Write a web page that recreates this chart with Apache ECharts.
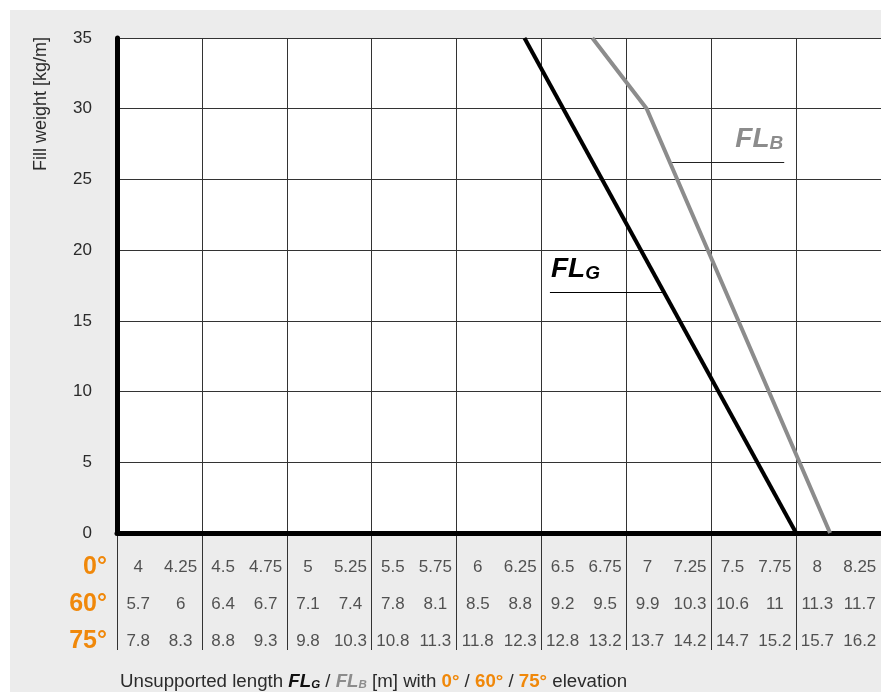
<!DOCTYPE html>
<html>
<head>
<meta charset="utf-8">
<script src="https://cdn.jsdelivr.net/npm/echarts@6/dist/echarts.min.js"></script>
<style>
  html, body { margin: 0; padding: 0; background: #fff; }
  #chart { width: 881px; height: 692px; }
</style>
</head>
<body>
<div id="chart"></div>
<script>
// Unsupported length columns (0° row is the reference scale of the x axis)
const lengths0 = ['4','4.25','4.5','4.75','5','5.25','5.5','5.75','6','6.25','6.5','6.75','7','7.25','7.5','7.75','8','8.25'];
const lengths60 = ['5.7','6','6.4','6.7','7.1','7.4','7.8','8.1','8.5','8.8','9.2','9.5','9.9','10.3','10.6','11','11.3','11.7'];
const lengths75 = ['7.8','8.3','8.8','9.3','9.8','10.3','10.8','11.3','11.8','12.3','12.8','13.2','13.7','14.2','14.7','15.2','15.7','16.2'];
const elevations = ['0°', '60°', '75°'];

// Fill weight [kg/m] vs unsupported length at 0° [m]
const flG = [[6.4, 35], [8.0, 0]];
const flB = [[6.8, 35], [7.12, 30], [8.2, 0]];

// Leader lines for the curve names (length, weight)
const flGLeader = [[6.55, 17], [7.22, 17]];
const flBLeader = [[7.27, 26.2], [7.93, 26.2]];

const FONT = "'Liberation Sans', Arial, Helvetica, sans-serif";
const ORANGE = '#f0880a';
const TEXT = '#2b2b2b';
const GRID_LINE = '#333333';
const PLOT_LEFT = 117;
const PLOT_WIDTH = 767;

const tableRows = [lengths0, lengths60, lengths75];
const tableData = [];
tableRows.forEach((row, r) => {
  row.forEach((txt, c) => tableData.push([c, r, txt]));
});

const chart = echarts.init(document.getElementById('chart'), null, { renderer: 'canvas' });

const sub = (size, color, lh) => ({
  fontSize: size, color: color, fontWeight: 'bold', fontStyle: 'italic',
  fontFamily: FONT, lineHeight: lh, verticalAlign: 'bottom'
});

chart.setOption({
  animation: false,
  backgroundColor: '#ffffff',
  textStyle: { fontFamily: FONT },
  graphic: [
    {
      type: 'rect', z: -100, silent: true,
      shape: { x: 10, y: 10, width: 871, height: 682 },
      style: { fill: '#ececec' }
    },
    {
      type: 'text', x: 41, y: 104, rotation: Math.PI / 2,
      style: {
        text: 'Fill weight [kg/m]', align: 'center', verticalAlign: 'middle',
        font: "18px 'Liberation Sans', Arial, sans-serif", fill: TEXT
      }
    }
  ],
  title: {
    left: 120, top: 671, padding: 0,
    text: '{n|Unsupported length }{k|FL}{ks|G}{n| / }{g|FL}{gs|B}{n| [m] with }{o|0°}{n| / }{o|60°}{n| / }{o|75°}{n| elevation}',
    textStyle: {
      fontWeight: 'normal',
      rich: {
        n: { fontSize: 18.7, color: TEXT, fontWeight: 'normal', fontFamily: FONT, lineHeight: 20, verticalAlign: 'bottom' },
        k: sub(18.7, '#111', 20),
        ks: sub(11.5, '#111', 8),
        g: sub(18.7, '#8c8c8c', 20),
        gs: sub(11.5, '#8c8c8c', 8),
        o: { fontSize: 18.7, color: ORANGE, fontWeight: 'bold', fontFamily: FONT, lineHeight: 20, verticalAlign: 'bottom' }
      }
    }
  },
  grid: [
    // main chart
    { left: PLOT_LEFT, top: 38, width: PLOT_WIDTH, height: 495, show: true, backgroundColor: '#ffffff', borderWidth: 0, containLabel: false },
    // table column separators
    { left: PLOT_LEFT, top: 534, width: PLOT_WIDTH, height: 116, show: false },
    // table values
    { left: PLOT_LEFT, top: 549, width: PLOT_WIDTH, height: 111, show: false }
  ],
  xAxis: [
    {
      gridIndex: 0, type: 'value', min: 4, max: 8.5, interval: 0.5,
      axisLine: { show: true, onZero: true, lineStyle: { color: '#000', width: 5 } },
      axisTick: { show: false },
      axisLabel: { show: false },
      splitLine: { show: true, lineStyle: { color: GRID_LINE, width: 1 } }
    },
    {
      gridIndex: 1, type: 'value', min: 4, max: 8.5, interval: 0.5,
      axisLine: { show: false }, axisTick: { show: false }, axisLabel: { show: false },
      splitLine: { show: true, lineStyle: { color: GRID_LINE, width: 1 } }
    },
    {
      gridIndex: 2, type: 'category', data: lengths0.map((_, i) => i), boundaryGap: true,
      axisLine: { show: false }, axisTick: { show: false }, axisLabel: { show: false },
      splitLine: { show: false }
    }
  ],
  yAxis: [
    {
      gridIndex: 0, type: 'value', min: 0, max: 35, interval: 5,
      axisLine: { show: true, lineStyle: { color: '#000', width: 5 } },
      axisTick: { show: false },
      axisLabel: { color: TEXT, fontSize: 17, margin: 25, fontFamily: FONT },
      splitLine: { show: true, lineStyle: { color: GRID_LINE, width: 1 } }
    },
    {
      gridIndex: 1, type: 'value', min: 0, max: 1,
      axisLine: { show: false }, axisTick: { show: false }, axisLabel: { show: false },
      splitLine: { show: false }
    },
    {
      gridIndex: 2, type: 'category', data: elevations, inverse: true,
      axisLine: { show: false }, axisTick: { show: false },
      axisLabel: { color: ORANGE, fontSize: 25, fontWeight: 'bold', margin: 10, fontFamily: FONT },
      splitLine: { show: false }
    }
  ],
  series: [
    {
      name: 'FL_G', type: 'line', xAxisIndex: 0, yAxisIndex: 0,
      data: flG, symbol: 'none', clip: true, z: 5,
      lineStyle: { color: '#000', width: 4 },
      markLine: {
        silent: true, symbol: ['none', 'none'], animation: false,
        lineStyle: { color: '#000', width: 1, type: 'solid' },
        label: {
          show: true, position: 'insideStartTop', distance: [1, 9],
          formatter: '{a|FL}{s|G}',
          rich: { a: sub(28, '#000', 28), s: sub(19, '#000', 6) }
        },
        data: [[{ coord: flGLeader[0] }, { coord: flGLeader[1] }]]
      }
    },
    {
      name: 'FL_B', type: 'line', xAxisIndex: 0, yAxisIndex: 0,
      data: flB, symbol: 'none', clip: true, z: 4,
      lineStyle: { color: '#8c8c8c', width: 4 },
      markLine: {
        silent: true, symbol: ['none', 'none'], animation: false,
        lineStyle: { color: '#222', width: 1, type: 'solid' },
        label: {
          show: true, position: 'insideEndTop', distance: [1, 9],
          formatter: '{a|FL}{s|B}',
          rich: { a: sub(28, '#8c8c8c', 28), s: sub(19, '#8c8c8c', 6) }
        },
        data: [[{ coord: flBLeader[0] }, { coord: flBLeader[1] }]]
      }
    },
    {
      name: 'table', type: 'scatter', xAxisIndex: 2, yAxisIndex: 2,
      data: tableData, symbolSize: 0, silent: true,
      label: {
        show: true, position: 'inside', color: TEXT, fontSize: 17, fontFamily: FONT,
        formatter: p => p.value[2]
      }
    }
  ]
});
</script>
</body>
</html>
